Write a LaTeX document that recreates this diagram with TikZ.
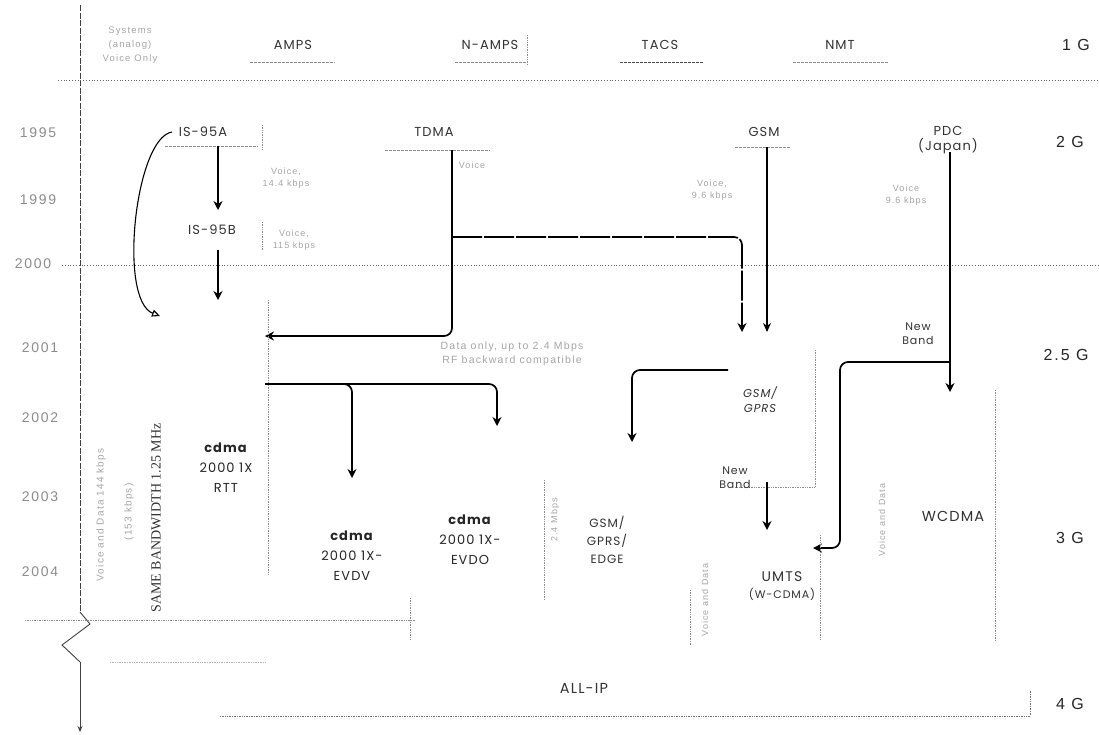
\documentclass[tikz,border=0pt]{standalone}
\usepackage{fontspec}
\setmainfont{Liberation Sans}
\newfontfamily\geo[LetterSpace=8]{Poppins}
\newfontfamily\spaced[LetterSpace=12]{Liberation Sans}
\newfontfamily\serifb{Liberation Serif}
\usetikzlibrary{arrows.meta}
\begin{document}
\begin{tikzpicture}[x=1pt,y=-1pt,
  lbl/.style={font=\geo\fontsize{13}{15}\selectfont, text=black!80, align=center, inner sep=1pt},
  blbl/.style={font=\geo\fontsize{13}{20}\selectfont, text=black!85, align=center, inner sep=1pt},
  faint/.style={font=\spaced\fontsize{9}{12}\selectfont, text=black!35, align=center, inner sep=1pt},
  year/.style={font=\spaced\fontsize{14}{15}\selectfont, text=black!45, inner sep=1pt},
  gen/.style={font=\spaced\fontsize{16}{17}\selectfont, text=black!85, inner sep=1pt},
  arr/.style={line width=1.7pt, black, rounded corners=8pt, -{Stealth[length=9pt,width=9pt]}},
  thinarr/.style={line width=1.1pt, black, -{Stealth[length=9pt,width=8pt]}},
  dotln/.style={densely dotted, black!45, line width=0.7pt},
  uline/.style={black!45, line width=0.8pt, dash pattern=on 3pt off 1pt},
  grid/.style={dotted, black!60, line width=0.8pt}]
\useasboundingbox (0,0) rectangle (1099,734);
\fill[white] (0,0) rectangle (1099,734);

% time axis with break
\coordinate (axtop) at (80,5);
\coordinate (axb1) at (80,612);
\coordinate (axb2) at (80,662);
\coordinate (axend) at (80,732);
\draw[dash pattern=on 6pt off 1.5pt, black!75, line width=0.9pt] (axtop) -- (axb1);
\draw[black!75, line width=0.9pt] (axb1) -- (90,624) -- (62,645) -- (axb2);
\draw[black!75, line width=0.9pt, -{Stealth[length=6pt,width=5pt]}] (axb2) -- (axend);

% horizontal grid lines
\coordinate (g1l) at (58,80);  \coordinate (g1r) at (1099,80);
\coordinate (g2l) at (62,265); \coordinate (g2r) at (1099,265);
\draw[grid] (g1l) -- (g1r);
\draw[grid] (g2l) -- (g2r);
\coordinate (g3l) at (25,620); \coordinate (g3r) at (415,620);
\draw[dotln] (g3l) -- (g3r);

% years
\node[year] (y1995) at (38,133) {1995};
\node[year] (y1999) at (38,200) {1999};
\node[year] (y2000) at (33,264) {2000};
\node[year] (y2001) at (40,348) {2001};
\node[year] (y2002) at (40,418) {2002};
\node[year] (y2003) at (40,497) {2003};
\node[year] (y2004) at (40,572) {2004};

% generations
\node[gen] (gen1) at (1076,45) {1 G};
\node[gen] (gen2) at (1070,142) {2 G};
\node[gen] (gen25) at (1066,355) {2.5 G};
\node[gen] (gen3) at (1070,538) {3 G};
\node[gen] (gen4) at (1070,704) {4 G};

% 1G systems
\node[faint, font=\spaced\fontsize{9.5}{14}\selectfont] (sys) at (130,45) {Systems\\(analog)\\Voice Only};
\node[lbl] (amps) at (293,45) {AMPS};
\node[lbl] (namps) at (490,45) {N-AMPS};
\node[lbl] (tacs) at (660,45) {TACS};
\node[lbl] (nmt) at (840,45) {NMT};
\draw[uline] (250,62) -- (335,62);
\draw[uline] (455,62) -- (527,62);
\draw[dotln] (527,35) -- (527,65);
\draw[uline, black!70] (620,62) -- (703,62);
\draw[uline] (793,62) -- (888,62);

% 2G systems
\node[lbl] (is95a) at (203,132) {IS-95A};
\node[lbl] (is95b) at (212,230) {IS-95B};
\node[lbl] (tdma) at (434,132) {TDMA};
\node[lbl] (gsm) at (764,132) {GSM};
\node[lbl] (pdc) at (948,140) {PDC\\(Japan)};
\draw[uline] (165,146) -- (258,146);
\draw[dotln] (262,125) -- (262,150);
\draw[dotln] (262,222) -- (262,250);
\draw[uline] (385,150) -- (490,150);
\draw[uline] (735,147) -- (790,147);
\node[faint] (v95a) at (286,178) {Voice,\\14.4 kbps};
\node[faint] (v95b) at (294,240) {Voice,\\115 kbps};
\node[faint] (vtdma) at (472,165) {Voice};
\node[faint] (vgsm) at (712,190) {Voice,\\9.6 kbps};
\node[faint] (vpdc) at (906,195) {Voice\\9.6 kbps};

% 2G -> 2.5G/3G connectors
\coordinate (a1s) at (218,146); \coordinate (a1e) at (218,210);
\draw[arr] (a1s) -- (a1e);
\coordinate (a2s) at (218,250); \coordinate (a2e) at (218,300);
\draw[arr] (a2s) -- (a2e);
\coordinate (cs) at (172,132); \coordinate (ce) at (160,316);
\draw[line width=1.1pt, -{Triangle[open,length=8pt,width=7pt]}] (cs) .. controls (135,138) and (118,300) .. (ce);

\coordinate (tds) at (452,150); \coordinate (tdc) at (452,336); \coordinate (tde) at (265,336);
\draw[arr] (tds) -- (tdc) -- (tde);
\coordinate (tbj) at (452,237); \coordinate (tbc) at (742,237); \coordinate (tbe) at (742,332);
\draw[arr, dash pattern=on 30pt off 2pt] (tbj) -- (tbc) -- (tbe);

\coordinate (gss) at (767,147); \coordinate (gse) at (767,332);
\draw[thinarr] (gss) -- (gse);

\coordinate (pds) at (950,152); \coordinate (pde) at (950,392);
\draw[arr] (pds) -- (pde);
\coordinate (pbj) at (950,362); \coordinate (pbc1) at (840,362); \coordinate (pbc2) at (840,548); \coordinate (pbe) at (813,548);
\draw[arr] (pbj) -- (pbc1) -- (pbc2) -- (pbe);
\node[lbl, font=\geo\fontsize{11}{14}\selectfont] (nb1) at (918,334) {New\\Band};

% 2.5G
\node[faint, font=\spaced\fontsize{10.5}{14}\selectfont] (data) at (512,354) {Data only, up to 2.4 Mbps\\RF backward compatible};
\node[lbl, font=\geo\itshape\fontsize{11.5}{15}\selectfont] (gprs) at (760,400) {GSM/\\GPRS};
\draw[dotln] (815,350) -- (815,487) -- (735,487);
\draw[dotln] (268,300) -- (268,575);

\coordinate (cds) at (265,384); \coordinate (cdc) at (497,384); \coordinate (cde) at (497,426);
\draw[arr] (cds) -- (cdc) -- (cde);
\coordinate (evj) at (300,384); \coordinate (evc) at (352,384); \coordinate (eve) at (352,478);
\draw[arr] (evj) -- (evc) -- (eve);

\coordinate (egs) at (728,370); \coordinate (egc) at (632,370); \coordinate (ege) at (632,442);
\draw[arr] (egs) -- (egc) -- (ege);

\node[lbl, font=\geo\fontsize{11}{14}\selectfont] (nb2) at (735,478) {New\\Band};
\coordinate (ums) at (767,482); \coordinate (ume) at (767,530);
\draw[arr] (ums) -- (ume);

% 3G
\node[blbl] (rtt) at (226,468) {\textbf{cdma}\\2000 1X\\RTT};
\node[blbl] (evdv) at (352,556) {\textbf{cdma}\\2000 1X-\\EVDV};
\node[blbl] (evdo) at (470,540) {\textbf{cdma}\\2000 1X-\\EVDO};
\node[lbl, font=\geo\fontsize{12}{18}\selectfont] (edge) at (607,540) {GSM/\\GPRS/\\EDGE};
\node[lbl, font=\geo\fontsize{14}{16}\selectfont] (umts) at (782,586) {UMTS\\[1pt]{\fontsize{11}{12}\selectfont (W-CDMA)}};
\node[lbl, font=\geo\fontsize{14.5}{15}\selectfont] (wcdma) at (953,516) {WCDMA};

\draw[dotln] (544,480) -- (544,600);
\draw[dotln] (410,598) -- (410,640);
\draw[dotln] (690,590) -- (690,645);
\draw[dotln] (820,535) -- (820,640);
\draw[dotln] (995,390) -- (995,640);

% rotated side texts
\node[faint, rotate=90, font=\spaced\fontsize{10}{11}\selectfont] (lv1) at (101,515) {Voice and Data 144 kbps};
\node[faint, rotate=90, font=\spaced\fontsize{10}{11}\selectfont] (lv2) at (129,512) {(153 kbps)};
\node[rotate=90, font=\serifb\fontsize{14}{15}\selectfont, text=black!80, inner sep=0pt] (sbw) at (156,518) {SAME BANDWIDTH 1.25 MHz};
\node[faint, rotate=90] (r1) at (555,520) {2.4 Mbps};
\node[faint, rotate=90] (r2) at (705,600) {Voice and Data};
\node[faint, rotate=90] (r3) at (882,520) {Voice and Data};

% 4G
\node[lbl, font=\geo\fontsize{14.5}{15}\selectfont] (allip) at (584,688) {ALL-IP};
\coordinate (bl) at (220,716); \coordinate (br) at (1030,716);
\draw[dotln, black!55] (bl) -- (br) -- (1030,690);
\draw[dotln, black!30] (110,662) -- (265,662);
\end{tikzpicture}
\end{document}
